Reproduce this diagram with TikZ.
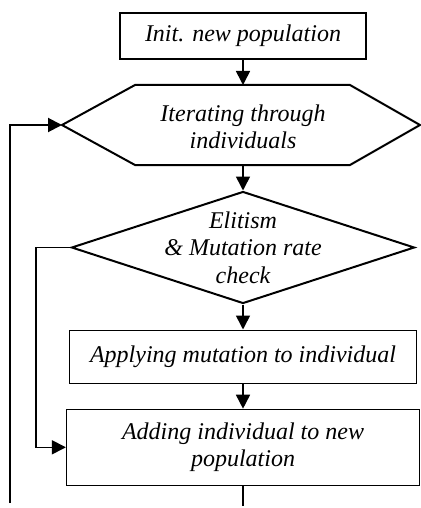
\documentclass[tikz,border=0pt]{standalone}
\usepackage{fontspec}
\setmainfont{Liberation Serif}
\usetikzlibrary{arrows.meta, positioning, shapes.geometric}

\begin{document}
\begin{tikzpicture}[
      x=1pt, y=-1pt,
      flowtext/.style={font=\fontsize{24}{27.6}\selectfont\itshape,
        align=center},
      box/.style={draw, line width=1.2pt, flowtext, inner sep=0pt},
      decision/.style={draw, diamond, line width=2pt, inner sep=0pt,
        minimum width=343pt, minimum height=112pt},
      link/.style={line width=1.6pt},
      >={Triangle[length=14pt, width=14pt]}
    ]
      \useasboundingbox (0,0) rectangle (420,508);
      \node[box, minimum width=246pt, minimum height=46pt] (init)
        at (243,36) {Init. new population};
      \node[flowtext] (iter) at (243,127)
        {Iterating through\\individuals};
      % hexagon round the loop node
      \draw[line width=2pt] (62,125) coordinate (iter-w) -- (135,85)
        -- (350,85) -- (420,125) -- (350,165) -- (135,165) -- cycle;
      \coordinate (iter-n) at (243,85);
      \coordinate (iter-s) at (243,165);
      \node[decision, label={[flowtext]center:{Elitism\\\& Mutation rate\\check}}]
        (check) at (243,247.5) {};
      \node[box, minimum width=347pt, minimum height=53pt,
        below=25pt of check] (apply) {Applying mutation to individual};
      \node[box, minimum width=353pt, minimum height=76pt,
        below=25pt of apply] (add) {Adding individual to new\\population};
      \coordinate[below=20pt of add] (tail);
      \coordinate (loopfoot) at (10,503);
      \coordinate (bypass) at (36,0);
      \draw[->, link] (init.south) -- (iter-n);
      \draw[->, link] (iter-s) -- (check.north);
      \draw[->, link] (check.south) -- (apply.north);
      \draw[->, link] (apply.south) -- (add.north);
      \draw[link] (add.south) -- (tail);
      \draw[->, line width=2pt] (loopfoot) |- (iter-w);
      \draw[->, link] (check.west) -| (bypass |- add.west) -- (add.west);
    \end{tikzpicture}
\end{document}
